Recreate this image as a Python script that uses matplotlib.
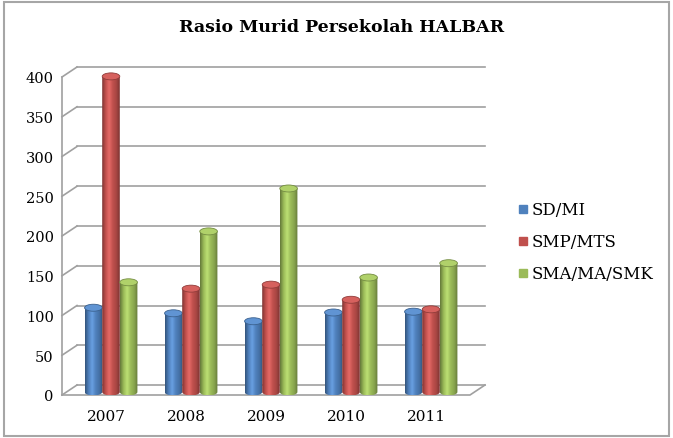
import numpy as np
import matplotlib.pyplot as plt
from matplotlib.colors import LinearSegmentedColormap, to_rgb
from matplotlib.patches import Ellipse, PathPatch, Rectangle
from matplotlib.path import Path
from matplotlib.lines import Line2D

years = ['2007', '2008', '2009', '2010', '2011']
sd_mi = [106, 99, 89, 100, 101]
smp_mts = [397, 130, 135, 116, 104]
sma_ma_smk = [138, 202, 256, 144, 162]
series_names = ['SD/MI', 'SMP/MTS', 'SMA/MA/SMK']
series_vals = [sd_mi, smp_mts, sma_ma_smk]
colors = ['#4F81BD', '#C0504D', '#9BBB59']

plt.rcParams['font.family'] = ['DejaVu Serif']

W, H = 673, 439
fig = plt.figure(figsize=(W / 100, H / 100), dpi=100)
ax = fig.add_axes([62 / W, 43 / H, 408 / W, 318 / H])
xlo, xhi, ytop = -0.55, 4.55, 400
ax.set_xlim(xlo, xhi)
ax.set_ylim(0, ytop)

# pixel -> data scale, used for the fake 3d depth
px_x = (xhi - xlo) / 408
px_y = ytop / 318
dx, dy = 15 * px_x, 10 * px_y      # back wall offset
mx, my = 5 * px_x, 3 * px_y        # bars sit in the middle

grid_c = '#A0A0A0'
for v in range(0, 401, 50):
    ax.plot([xlo + dx, xhi + dx], [v + dy, v + dy], color=grid_c, lw=1.2, clip_on=False, zorder=1)
    ax.plot([xlo, xlo + dx], [v, v + dy], color=grid_c, lw=1.2, clip_on=False, zorder=1)
# floor
ax.plot([xlo, xhi, xhi + dx], [0, 0, dy], color=grid_c, lw=1.2, clip_on=False, zorder=1)

for s in ['top', 'right', 'bottom']:
    ax.spines[s].set_visible(False)
ax.spines['left'].set_color(grid_c)
ax.spines['left'].set_linewidth(1.2)
ax.set_yticks(range(0, 401, 50))
ax.set_xticks(range(len(years)))
ax.set_xticklabels(years)
ax.tick_params(axis='y', length=0, pad=6, labelsize=10.5)
ax.tick_params(axis='x', length=0, pad=10, labelsize=11)


def shade(c):
    r = np.array(to_rgb(c))
    dark = r * 0.65
    light = np.clip(r * 1.1 + 0.07, 0, 1)
    return LinearSegmentedColormap.from_list('cyl', [dark, r, light, r, r * 0.88, dark])


bw = 0.22
eh = 3.5 * px_y
theta = np.linspace(np.pi, 2 * np.pi, 30)
z = 3
for i in range(len(years)):
    for j, (vals, c) in enumerate(zip(series_vals, colors)):
        xc = i + (j - 1) * bw + mx
        x0, x1 = xc - bw / 2, xc + bw / 2
        b = my
        t = vals[i] + my
        arc = np.column_stack([xc + bw / 2 * np.cos(theta), b + eh * np.sin(theta)])
        verts = np.vstack([arc, [[x1, t], [x0, t], [x0, b]]])
        clip = PathPatch(Path(verts, closed=True), transform=ax.transData, fc='none', ec='none')
        ax.add_patch(clip)
        im = ax.imshow(np.linspace(0, 1, 64)[None, :], extent=[x0, x1, b - eh, t],
                       aspect='auto', cmap=shade(c), zorder=z, interpolation='bilinear')
        im.set_clip_path(clip)
        rc = np.array(to_rgb(c))
        ax.add_patch(Ellipse((xc, t), bw, 2 * eh, fc=np.clip(rc * 1.05 + 0.05, 0, 1),
                             ec=rc * 0.75, lw=0.6, zorder=z + 0.5, clip_on=False))
        z += 1

ax.set_xlim(xlo, xhi)
ax.set_ylim(0, ytop)

handles = [Line2D([], [], marker='s', ls='', color=c, markersize=6) for c in colors]
fig.legend(handles, series_names, loc='center left', bbox_to_anchor=(500 / W, 1 - 243 / H),
           frameon=False, fontsize=12, handletextpad=0.0, labelspacing=0.9, handlelength=1.0)

fig.text(342 / W, 1 - 28 / H, 'Rasio Murid Persekolah HALBAR', ha='center', va='center',
         fontsize=12.5, fontweight='bold')

fig.add_artist(Rectangle((4 / W, 2 / H), 665 / W, 434 / H, transform=fig.transFigure,
                         fill=False, ec='#A6A6A6', lw=1.5))

fig.savefig('out.png', dpi=100)
